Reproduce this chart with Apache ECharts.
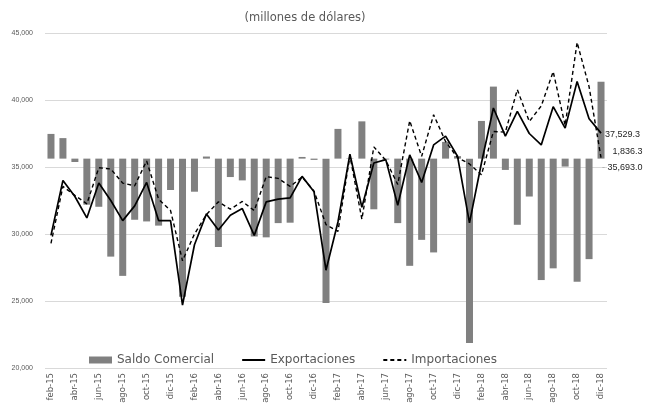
<!DOCTYPE html>
<html>
<head>
<meta charset="utf-8">
<script src="https://cdn.jsdelivr.net/npm/echarts@6/dist/echarts.min.js"></script>
<style>
  html, body { margin: 0; padding: 0; background: #fff; }
  #chart { width: 656px; height: 409px; }
</style>
</head>
<body>
<div id="chart"></div>
<script>
// meses feb-15 .. dic-18
const months = [
  "feb-15", "mar-15", "abr-15", "may-15", "jun-15", "jul-15", "ago-15", "sep-15", "oct-15", "nov-15", "dic-15",
  "ene-16", "feb-16", "mar-16", "abr-16", "may-16", "jun-16", "jul-16", "ago-16", "sep-16", "oct-16", "nov-16", "dic-16",
  "ene-17", "feb-17", "mar-17", "abr-17", "may-17", "jun-17", "jul-17", "ago-17", "sep-17", "oct-17", "nov-17", "dic-17",
  "ene-18", "feb-18", "mar-18", "abr-18", "may-18", "jun-18", "jul-18", "ago-18", "sep-18", "oct-18", "nov-18", "dic-18"
];

const saldo = [
  590, 490, -80, -1100, -1150, -2340, -2800, -1460, -1500, -1600, -750,
  -3300, -790, 50, -2110, -440, -520, -1860, -1880, -1540, -1530, 40, -30,
  -3450, 710, 10, 890, -1210, -20, -1540, -2560, -1940, -2240, 400, 60,
  -4400, 900, 1720, -270, -1580, -905, -2900, -2620, -190, -2940, -2400, 1836.3
];

const exportaciones = [
  29900, 34000, 32800, 31200, 33800, 32500, 31000, 32100, 33850, 31000, 31000,
  24700, 29200, 31500, 30300, 31400, 31900, 29900, 32400, 32600, 32700, 34300, 33150,
  27300, 30900, 35950, 32000, 35300, 35550, 32150, 35900, 33850, 36650, 37300, 35800,
  30830, 35300, 39400, 37300, 39150, 37500, 36650, 39500, 37900, 41380, 38600, 37529.3
];

const importaciones = [
  29300, 33550, 32880, 32250, 34950, 34850, 33800, 33600, 35450, 32600, 31750,
  28000, 30000, 31450, 32400, 31850, 32430, 31750, 34280, 34150, 33550, 34250, 33200,
  30700, 30200, 35850, 31100, 36500, 35500, 33700, 38450, 35800, 38900, 36900, 35700,
  35230, 34420, 37650, 37600, 40770, 38400, 39550, 42120, 38100, 44300, 41000, 35693.0
];

const yTicks = { min: 20000, max: 45000, step: 5000 };

var chartDom = document.getElementById("chart");
var myChart = echarts.init(chartDom, null, { renderer: "canvas" });
var option;

const last = months.length - 1;
const fmt = (v) =>
  v.toLocaleString("en-US", { minimumFractionDigits: 1, maximumFractionDigits: 1 });
const lblStyle = {
  fontFamily: "Liberation Sans",
  fontSize: 9,
  color: "#262626",
};

option = {
  animation: false,
  backgroundColor: "#fff",
  title: {
    text: "(millones de dólares)",
    left: 300,
    top: 7,
    textAlign: "center",
    textStyle: {
      fontFamily: "DejaVu Sans",
      fontSize: 11.5,
      fontWeight: "normal",
      color: "#595959",
    },
  },
  legend: {
    bottom: 38,
    left: 84,
    itemWidth: 23,
    itemHeight: 7,
    itemGap: 27,
    textStyle: {
      fontFamily: "DejaVu Sans",
      fontSize: 12,
      color: "#595959",
    },
    data: [
      { name: "Saldo Comercial", icon: "rect" },
      { name: "Exportaciones", itemStyle: { opacity: 0 } },
      { name: "Importaciones", itemStyle: { opacity: 0 } },
    ],
  },
  grid: {
    left: 45,
    right: 49,
    top: 33,
    bottom: 41,
  },
  xAxis: {
    type: "category",
    data: months,
    boundaryGap: true,
    axisLine: { show: false },
    axisTick: { show: false },
    axisLabel: {
      interval: 1,
      rotate: 90,
      margin: 5,
      fontFamily: "DejaVu Sans",
      fontSize: 8.5,
      color: "#595959",
    },
  },
  yAxis: [
    {
      type: "value",
      min: yTicks.min,
      max: yTicks.max,
      interval: yTicks.step,
      axisLine: { show: false },
      axisTick: { show: false },
      splitLine: { lineStyle: { color: "#d9d9d9", width: 1 } },
      axisLabel: {
        margin: 12,
        fontFamily: "Liberation Sans",
        fontSize: 7,
        color: "#595959",
        formatter: (v) => v.toLocaleString("en-US"),
      },
    },
    {
      // eje secundario del saldo, cero alineado cerca de 35,700
      type: "value",
      min: -5000,
      max: 3000,
      show: false,
      splitLine: { show: false },
    },
  ],
  series: [
    {
      name: "Saldo Comercial",
      type: "bar",
      yAxisIndex: 1,
      barWidth: 7,
      itemStyle: { color: "#808080" },
      data: saldo.map((v, i) =>
        i === last
          ? {
              value: v,
              label: {
                show: true,
                position: "right",
                offset: [3, 31],
                formatter: () => fmt(v),
                ...lblStyle,
              },
            }
          : v
      ),
      z: 1,
    },
    {
      name: "Exportaciones",
      type: "line",
      symbol: "none",
      lineStyle: { color: "#000", width: 1.7 },
      itemStyle: { color: "#000" },
      endLabel: {
        show: true,
        distance: 4,
        offset: [0, 1],
        formatter: () => fmt(exportaciones[last]),
        ...lblStyle,
      },
      data: exportaciones,
      z: 3,
    },
    {
      name: "Importaciones",
      type: "line",
      symbol: "none",
      lineStyle: { color: "#000", width: 1.4, type: [4, 3] },
      itemStyle: { color: "#000" },
      endLabel: {
        show: true,
        distance: 1,
        offset: [0, 10],
        formatter: () => "{d|-} " + fmt(importaciones[last]),
        rich: { d: { color: "#a6a6a6", fontSize: 9 } },
        ...lblStyle,
      },
      data: importaciones,
      z: 2,
    },
  ],
};

option && myChart.setOption(option);
</script>
</body>
</html>
